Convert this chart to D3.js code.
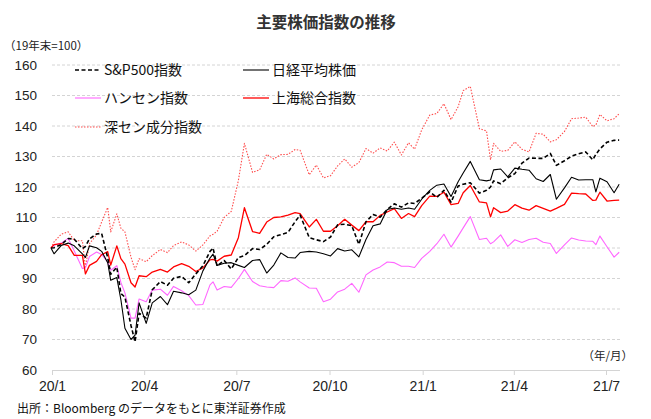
<!DOCTYPE html>
<html>
<head>
<meta charset="utf-8">
<script src="https://cdn.jsdelivr.net/npm/d3@7"></script>
<style>
  html, body { margin: 0; padding: 0; background: #fff; }
  svg { display: block; }
</style>
</head>
<body>
<svg id="chart" width="651" height="419"></svg>
<script>
const dates = [
"2019-12-31",
"2020-01-03","2020-01-10","2020-01-17","2020-01-23","2020-01-31",
"2020-02-03","2020-02-07","2020-02-14","2020-02-19","2020-02-25","2020-02-28",
"2020-03-05","2020-03-09","2020-03-13","2020-03-19","2020-03-23","2020-03-27",
"2020-04-03","2020-04-09","2020-04-17","2020-04-24","2020-04-30",
"2020-05-08","2020-05-15","2020-05-22","2020-05-29",
"2020-06-05","2020-06-08","2020-06-12","2020-06-19","2020-06-26",
"2020-07-03","2020-07-09","2020-07-17","2020-07-24","2020-07-31",
"2020-08-07","2020-08-14","2020-08-21","2020-08-28",
"2020-09-02","2020-09-11","2020-09-18","2020-09-25",
"2020-10-02","2020-10-09","2020-10-16","2020-10-23","2020-10-30",
"2020-11-06","2020-11-13","2020-11-20","2020-11-27",
"2020-12-04","2020-12-11","2020-12-18","2020-12-24","2020-12-31",
"2021-01-08","2021-01-15","2021-01-22","2021-01-29",
"2021-02-05","2021-02-10","2021-02-17","2021-02-26",
"2021-03-05","2021-03-09","2021-03-12","2021-03-19","2021-03-26",
"2021-04-02","2021-04-09","2021-04-16","2021-04-23","2021-04-30",
"2021-05-07","2021-05-13","2021-05-21","2021-05-28",
"2021-06-04","2021-06-11","2021-06-18","2021-06-21","2021-06-25",
"2021-07-02","2021-07-09","2021-07-14"];

const sp500 = [100,
100.1,101.1,103.1,102.9,99.8,
100.5,103.0,104.6,104.8,96.8,91.4,
93.7,85.1,83.9,74.6,69.2,78.6,
77.0,86.3,89.0,87.8,90.1,
90.7,88.6,91.5,94.2,
98.9,100.0,94.1,95.9,93.1,
96.9,97.5,99.8,99.5,101.2,
103.7,104.4,105.1,108.6,
110.8,103.4,102.7,102.1,
103.6,107.6,107.8,107.3,101.2,
108.6,111.0,110.1,112.6,
114.5,113.4,114.8,114.6,116.3,
118.4,116.6,118.9,115.0,
120.3,120.9,121.4,118.0,
118.9,120.0,122.0,121.1,123.0,
124.4,127.8,129.5,129.4,129.4,
131.0,127.1,128.6,130.1,
130.9,131.5,128.9,130.7,132.5,
134.7,135.3,135.4];

const nikkei = [100,
98.1,100.8,101.6,100.7,98.1,
96.9,100.7,100.1,98.9,95.2,89.4,
90.3,83.1,73.7,70.0,71.4,82.0,
75.3,82.0,84.1,81.4,85.8,
85.3,84.7,86.2,92.5,
96.7,98.0,94.3,95.0,95.2,
94.3,93.6,95.9,96.2,91.8,
94.4,98.4,96.9,96.7,
98.5,98.9,98.7,98.1,
97.4,99.8,99.0,99.4,97.1,
102.8,107.3,107.9,112.6,
113.1,112.7,113.1,112.7,116.0,
118.9,120.6,121.0,116.9,
121.7,124.6,128.4,122.4,
122.0,122.3,125.6,125.9,123.3,
126.2,125.8,125.5,122.7,121.8,
124.1,116.0,119.7,123.2,
122.3,122.4,122.4,118.4,122.9,
121.7,118.1,120.9];

const hangseng = [100,
100.9,101.6,103.1,99.0,93.3,
93.5,97.2,98.7,97.9,95.4,92.7,
94.2,88.7,85.3,77.0,77.0,83.3,
82.4,86.2,86.5,84.5,87.4,
86.0,84.4,81.3,81.5,
87.9,88.9,86.2,87.4,87.1,
90.0,93.0,89.0,87.6,87.2,
87.0,89.3,89.1,90.2,
88.9,86.9,86.8,82.4,
83.2,85.6,86.5,88.4,85.5,
91.2,92.8,93.8,95.4,
95.2,94.0,94.0,93.6,96.6,
98.9,101.4,104.5,100.3,
103.9,106.6,110.3,102.8,
103.2,101.4,102.0,104.3,100.5,
102.7,101.8,102.8,103.2,101.9,
101.5,98.2,101.0,103.3,
102.6,102.3,102.2,101.1,103.9,
100.4,97.0,98.6];

const shanghai = [100,
101.1,101.4,100.8,97.6,97.6,
91.5,94.3,95.6,97.8,98.8,94.4,
100.7,96.5,94.7,88.6,87.2,90.9,
90.6,92.1,93.0,92.1,93.8,
94.9,94.0,92.3,93.5,
96.1,96.3,95.7,97.3,97.7,
103.4,113.2,105.4,104.8,108.5,
110.0,110.2,110.8,111.6,
111.3,106.9,109.4,105.5,
105.5,107.3,109.4,107.5,105.7,
108.6,108.6,110.7,111.8,
112.9,109.7,111.3,110.3,113.9,
117.0,116.9,118.3,114.2,
114.6,118.1,120.5,115.1,
114.8,110.2,113.2,111.6,112.1,
114.2,113.1,112.4,113.9,113.0,
112.1,113.0,114.3,118.0,
117.8,117.7,115.6,115.7,118.3,
115.4,115.6,115.7];

const shenzhen = [100,
102.0,104.5,105.3,102.4,102.4,
93.8,101.4,104.3,108.5,113.3,105.3,
111.2,106.5,105.3,97.0,92.9,96.5,
95.5,97.5,99.5,98.5,100.8,
102.0,101.0,99.0,101.0,
104.0,104.5,105.5,110.0,112.0,
122.1,134.3,124.8,125.6,130.7,
129.2,130.6,130.7,132.3,
132.0,124.0,127.2,123.0,
123.7,126.9,129.2,126.5,128.0,
132.6,131.1,132.8,131.8,
134.7,130.5,134.5,132.4,138.7,
143.6,144.1,147.3,142.1,
146.3,151.6,153.0,139.1,
138.4,128.9,134.3,131.7,132.0,
134.8,132.4,131.5,137.6,137.3,
134.8,135.5,138.2,142.4,
142.6,142.9,139.8,140.3,143.8,
141.7,142.4,144.0];

const yTicks = [60,70,80,90,100,110,120,130,140,150,160];
const xTickDates = ["2020-01-01","2020-04-01","2020-07-01","2020-10-01","2021-01-01","2021-04-01","2021-07-01"];
const xTickLabels = ["20/1","20/4","20/7","20/10","21/1","21/4","21/7"];

const seriesNames = ["S&P500指数","日経平均株価","ハンセン指数","上海総合指数","深セン成分指数"];
const seriesValues = [sp500, nikkei, hangseng, shanghai, shenzhen];

(function () {
const parse = d3.utcParse("%Y-%m-%d");
const styles = [
  {color:"#000000", width:1.6, dash:"4,2.5"},
  {color:"#000000", width:1.1, dash:null},
  {color:"#ff66ff", width:1.1, dash:null},
  {color:"#ff0000", width:1.3, dash:null},
  {color:"#ff4d4d", width:1.1, dash:"1.5,1.5"}
];

const svg = d3.select("#chart");
const pLeft = 52, pRight = 620, pTop = 65, pBottom = 370;

const x = d3.scaleUtc().domain([parse("2020-01-01"), parse("2021-07-01")]).range([pLeft, 606]);
const y = d3.scaleLinear().domain([60,160]).range([pBottom, pTop]);

const FONT_NUM = "'Liberation Sans', Arial, sans-serif";
const FONT_JP = "'Noto Sans CJK JP', 'Noto Sans', sans-serif";

svg.append("text").attr("x", 326).attr("y", 28).attr("text-anchor","middle")
  .attr("font-family", FONT_JP).attr("font-weight","bold").attr("font-size", 15.5)
  .attr("fill","#333").text("主要株価指数の推移");

svg.append("text").attr("x", 4).attr("y", 50)
  .attr("font-family", FONT_JP).attr("font-size", 11.5).attr("fill","#222")
  .text("（19年末=100）");

svg.append("g").selectAll("line").data(yTicks.filter(v => v > 60)).join("line")
  .attr("x1", pLeft).attr("x2", pRight)
  .attr("y1", d => y(d)).attr("y2", d => y(d))
  .attr("stroke", "#d4d4d4").attr("stroke-width", 1).attr("stroke-dasharray", "3,2");

svg.append("g").selectAll("text").data(yTicks).join("text")
  .attr("x", 37).attr("y", d => y(d)).attr("dy", "0.36em").attr("text-anchor","end")
  .attr("font-family", FONT_NUM).attr("font-size", 13.5).attr("fill","#222")
  .text(d => d);

const xAxis = d3.axisBottom(x)
  .tickValues(xTickDates.map(parse))
  .tickSize(5)
  .tickFormat((d,i) => xTickLabels[i]);
const gx = svg.append("g").attr("transform", `translate(0,${pBottom})`).call(xAxis);
gx.select(".domain").remove();
gx.append("line").attr("x1", pLeft).attr("x2", pRight).attr("y1", 0.5).attr("y2", 0.5)
  .attr("stroke", "#d4d4d4");
gx.selectAll(".tick line").attr("stroke", "#d4d4d4");
gx.selectAll(".tick text").attr("font-family", FONT_NUM).attr("font-size", 14)
  .attr("fill", "#222").attr("dy", "0.95em");

svg.append("text").attr("x", 633).attr("y", 360).attr("text-anchor","end")
  .attr("font-family", FONT_JP).attr("font-size", 11.5).attr("fill","#222").text("（年/月）");

const line = d3.line().x(d => x(d[0])).y(d => y(d[1]));
const drawOrder = [4,2,3,1,0];
drawOrder.forEach(i => {
  const pts = dates.map((d, k) => [parse(d), seriesValues[i][k]]);
  const s = styles[i];
  svg.append("path").datum(pts).attr("d", line)
    .attr("fill","none").attr("stroke", s.color).attr("stroke-width", s.width)
    .attr("stroke-linejoin","round")
    .attr("stroke-dasharray", s.dash);
});

const legendPos = [[75,70],[243,70],[75,98],[243,98],[75,127]];
seriesNames.forEach((name, i) => {
  const [lx, ly] = legendPos[i];
  const s = styles[i];
  svg.append("line").attr("x1", lx).attr("x2", lx + 26).attr("y1", ly).attr("y2", ly)
    .attr("stroke", s.color).attr("stroke-width", s.width).attr("stroke-dasharray", s.dash);
  svg.append("text").attr("x", lx + 29).attr("y", ly).attr("dy","0.36em")
    .attr("font-family", FONT_JP).attr("font-size", 14).attr("fill","#111").text(name);
});

svg.append("text").attr("x", 17).attr("y", 413)
  .attr("font-family", FONT_JP).attr("font-size", 12).attr("fill","#111")
  .text("出所：Bloomberg のデータをもとに東洋証券作成");
})();
</script>
</body>
</html>
